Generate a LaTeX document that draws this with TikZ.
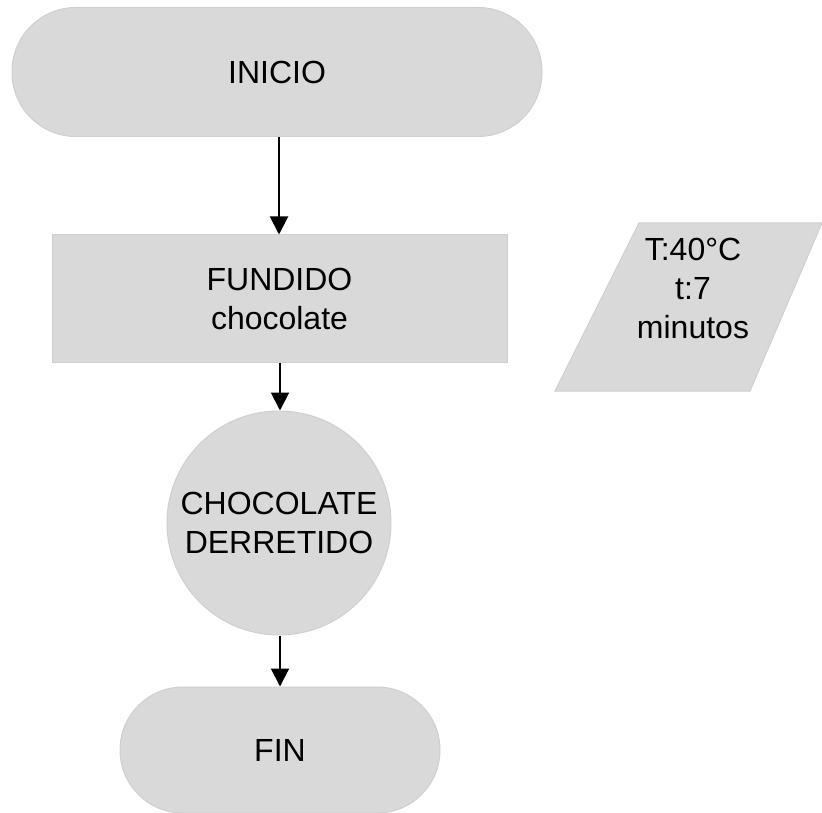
\documentclass[tikz,border=0pt]{standalone}
\usepackage{fontspec}
\setmainfont{Liberation Sans}
\usetikzlibrary{arrows.meta}
\definecolor{boxfill}{HTML}{D9D9D9}
\definecolor{boxedge}{HTML}{CFCFCF}
\begin{document}
\begin{tikzpicture}[x=1pt,y=-1pt,
  label font/.style={font=\fontsize{32}{39}\selectfont},
  shapebase/.style={fill=boxfill,draw=boxedge,line width=1pt,align=center,
    label font,inner sep=0pt},
  terminal/.style={shapebase,rectangle,rounded corners=#1},
  process/.style={shapebase,rectangle},
  connector/.style={shapebase,circle},
  flow/.style={line width=2pt,-{Triangle[length=18pt,width=18pt]}}]
\useasboundingbox (0,0) rectangle (822,813);
% terminals, process step and connector circle
\node[terminal=64pt,minimum width=530pt,minimum height=129pt] (inicio) at (277,72) {INICIO};
\node[process,minimum width=455pt,minimum height=127pt] (fundido) at (279.5,298.5) {FUNDIDO\\chocolate};
\node[connector,minimum size=224pt] (derretido) at (279,523) {CHOCOLATE\\DERRETIDO};
\node[terminal=63pt,minimum width=320pt,minimum height=126pt] (fin) at (280,750) {FIN};
% data parallelogram with its parameters
\path[fill=boxfill,draw=boxedge,line width=1pt] (639,223) -- (822,223) -- (750,391) -- (555,391) -- cycle;
\node[align=center,label font,inner sep=0pt] (datos) at (693,288) {T:40°C\\t:7\\minutos};
% flow arrows
\draw[flow] (inicio.south -| 279,0) -- (fundido.north -| 279,0);
\draw[flow] (fundido.south -| 280,0) -- (derretido.north -| 280,0);
\draw[flow] (derretido.south -| 280,0) -- (fin.north -| 280,0);
\end{tikzpicture}
\end{document}
